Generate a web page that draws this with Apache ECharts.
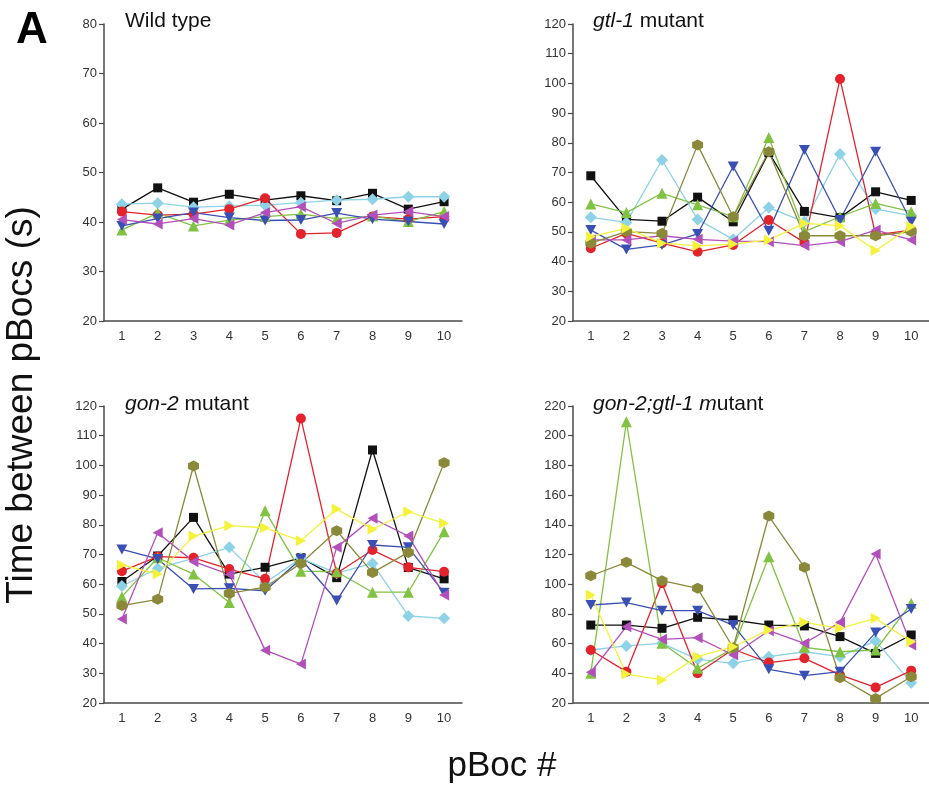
<!DOCTYPE html>
<html>
<head>
<meta charset="utf-8">
<title>Time between pBocs</title>
<script src="https://cdn.jsdelivr.net/npm/echarts@6/dist/echarts.min.js"></script>
<style>
  html, body { margin: 0; padding: 0; background: #fff; }
  #chart { width: 929px; height: 789px; }
</style>
</head>
<body>
<div id="chart"></div>
<script>
// x categories
var pboc = ['1', '2', '3', '4', '5', '6', '7', '8', '9', '10'];

// Wild type
var wt_black  = [42.6, 46.9, 44.0, 45.6, 44.4, 45.3, 44.3, 45.8, 42.6, 44.1];
var wt_red    = [42.1, 41.4, 41.6, 42.6, 44.8, 37.6, 37.8, 41.1, 40.6, 41.1];
var wt_blue   = [39.2, 40.7, 41.9, 40.9, 40.3, 40.4, 41.8, 40.6, 40.1, 39.6];
var wt_lblue  = [43.6, 43.8, 43.0, 43.2, 43.4, 43.9, 44.4, 44.6, 45.1, 45.1];
var wt_green  = [38.4, 41.8, 39.2, 40.4, 41.1, 41.6, 40.7, 41.2, 40.1, 42.1];
var wt_purple = [40.5, 39.6, 40.7, 39.4, 41.9, 43.1, 39.7, 41.4, 42.1, 41.1];

// gtl-1 mutant
var gtl_black  = [68.9, 54.2, 53.6, 61.7, 53.4, 76.7, 56.9, 54.8, 63.5, 60.6];
var gtl_red    = [44.5, 49.5, 46.2, 43.3, 45.6, 54.0, 46.4, 101.5, 49.0, 50.6];
var gtl_blue   = [50.6, 44.1, 45.6, 49.3, 72.0, 50.4, 77.6, 54.0, 77.0, 53.4];
var gtl_lblue  = [54.9, 53.2, 74.2, 54.2, 47.5, 58.2, 53.4, 76.2, 57.7, 55.5];
var gtl_green  = [59.4, 56.5, 63.0, 59.1, 55.1, 81.8, 50.1, 55.1, 59.6, 56.8];
var gtl_olive  = [46.2, 50.1, 49.5, 79.3, 55.1, 77.0, 48.7, 48.7, 48.7, 50.1];
var gtl_purple = [47.3, 47.3, 48.7, 47.5, 46.9, 46.7, 45.4, 46.7, 50.6, 47.3];
var gtl_yellow = [48.4, 51.2, 46.2, 45.3, 45.9, 47.3, 52.9, 52.1, 43.7, 51.8];

// gon-2 mutant
var gon_black  = [60.9, 69.5, 82.5, 63.4, 65.7, 68.9, 62.2, 105.2, 65.6, 61.8];
var gon_red    = [64.4, 69.3, 68.9, 65.1, 61.8, 115.8, 63.7, 71.5, 65.7, 64.2];
var gon_blue   = [71.7, 68.5, 58.4, 58.6, 57.8, 68.5, 54.5, 73.2, 72.4, 57.1];
var gon_lblue  = [59.4, 65.3, 68.7, 72.4, 60.5, 68.7, 63.7, 67.0, 49.3, 48.5];
var gon_green  = [55.8, 68.9, 63.4, 53.8, 84.7, 64.4, 64.2, 57.3, 57.3, 77.7];
var gon_olive  = [52.8, 54.9, 99.8, 56.9, 59.0, 67.0, 78.0, 63.9, 70.7, 100.9];
var gon_purple = [48.3, 77.3, 67.6, 63.3, 37.8, 33.1, 72.4, 82.2, 76.2, 56.4];
var gon_yellow = [66.5, 63.4, 76.2, 79.7, 79.0, 74.6, 85.3, 78.5, 84.4, 80.5];

// gon-2;gtl-1 mutant
var dbl_black  = [72.5, 72.5, 70.3, 77.7, 75.9, 72.5, 71.9, 64.7, 53.4, 65.8];
var dbl_red    = [55.7, 41.1, 100.6, 40.0, 56.2, 47.2, 50.1, 38.9, 30.5, 41.8];
var dbl_blue   = [86.0, 87.6, 82.2, 82.2, 72.5, 42.7, 38.4, 41.1, 67.4, 83.3];
var dbl_lblue  = [55.7, 58.4, 60.2, 49.4, 46.7, 51.2, 54.5, 51.2, 61.8, 33.7];
var dbl_green  = [40.0, 209.4, 60.2, 43.4, 56.8, 118.5, 57.5, 54.5, 55.7, 87.1];
var dbl_olive  = [105.7, 114.7, 102.4, 97.2, 57.2, 145.9, 111.4, 37.0, 23.1, 37.7];
var dbl_purple = [40.7, 71.4, 62.9, 64.0, 52.3, 68.7, 60.2, 74.3, 120.3, 59.1];
var dbl_yellow = [92.7, 39.5, 35.5, 51.2, 57.9, 69.2, 74.3, 70.3, 77.0, 61.3];

var FONT = '"Liberation Sans", Arial, Helvetica, sans-serif';

var styles = {
	black:  {color: '#111111', symbol: 'rect', size: 9},
	lblue:  {color: '#8dd2e6', symbol: 'diamond', size: 12},
	red:    {color: '#e3222b', symbol: 'circle', size: 10},
	green:  {color: '#80c242', symbol: 'triangle', size: 11},
	blue:   {color: '#3a4fb4', symbol: 'path://M0,0 L10,0 L5,9 Z', size: [11, 10]},
	purple: {color: '#b24fbb', symbol: 'path://M9,0 L9,10 L0,5 Z', size: [10, 11]},
	olive:  {color: '#8a893a', symbol: 'path://M50,0 L93.3,25 L93.3,75 L50,100 L6.7,75 L6.7,25 Z', size: 11},
	yellow: {color: '#f4f23a', symbol: 'path://M0,0 L0,10 L9,5 Z', size: [10, 11]}
};

var panels = [
	{left: 104, top: 24, max: 80, interval: 10, series: {black: wt_black, lblue: wt_lblue, red: wt_red, green: wt_green, blue: wt_blue, purple: wt_purple}},
	{left: 573, top: 24, max: 120, interval: 10, series: {black: gtl_black, lblue: gtl_lblue, red: gtl_red, green: gtl_green, blue: gtl_blue, purple: gtl_purple, olive: gtl_olive, yellow: gtl_yellow}},
	{left: 104, top: 406, max: 120, interval: 10, series: {black: gon_black, lblue: gon_lblue, red: gon_red, green: gon_green, blue: gon_blue, purple: gon_purple, olive: gon_olive, yellow: gon_yellow}},
	{left: 573, top: 406, max: 220, interval: 20, series: {black: dbl_black, lblue: dbl_lblue, red: dbl_red, green: dbl_green, blue: dbl_blue, purple: dbl_purple, olive: dbl_olive, yellow: dbl_yellow}}
];

var axisColor = '#4a4a4a';
var grid = [], xAxis = [], yAxis = [], series = [];

panels.forEach(function (p, i) {
	grid.push({left: p.left, top: p.top, width: 358, height: 297});
	xAxis.push({
		type: 'category', gridIndex: i, data: pboc, boundaryGap: true,
		axisLine: {lineStyle: {color: axisColor, width: 1.5}},
		axisTick: {alignWithLabel: true, length: 5, lineStyle: {color: axisColor, width: 1.2}},
		axisLabel: {color: '#333', fontSize: 13, fontFamily: FONT, margin: 9}
	});
	yAxis.push({
		type: 'value', gridIndex: i, min: 20, max: p.max, interval: p.interval,
		axisLine: {show: true, lineStyle: {color: axisColor, width: 1.5}},
		axisTick: {show: true, length: 5, lineStyle: {color: axisColor, width: 1.2}},
		axisLabel: {color: '#333', fontSize: 13, fontFamily: FONT, margin: 7},
		splitLine: {show: false}
	});
	Object.keys(p.series).forEach(function (key) {
		var s = styles[key];
		series.push({
			type: 'line', xAxisIndex: i, yAxisIndex: i,
			data: p.series[key],
			symbol: s.symbol, symbolSize: s.size,
			showAllSymbol: true,
			lineStyle: {color: s.color, width: 1.3},
			itemStyle: {color: s.color, opacity: 1},
			animation: false
		});
	});
});

var titleText = {fontSize: 21, fontWeight: 'normal', color: '#111', fontFamily: FONT,
	rich: {i: {fontStyle: 'italic', fontSize: 21, color: '#111', fontFamily: FONT}}};

var chart = echarts.init(document.getElementById('chart'));
chart.setOption({
	backgroundColor: '#ffffff',
	animation: false,
	title: [
		{text: 'A', left: 11, top: 4, textStyle: {fontSize: 44, fontWeight: 'bold', color: '#000', fontFamily: FONT}},
		{text: 'Wild type', left: 120, top: 6, textStyle: titleText},
		{text: '{i|gtl-1} mutant', left: 588, top: 6, textStyle: titleText},
		{text: '{i|gon-2} mutant', left: 120, top: 389, textStyle: titleText},
		{text: '{i|gon-2;gtl-1 m}utant', left: 588, top: 389, textStyle: titleText}
	],
	graphic: [
		{type: 'text', x: 22, y: 405, rotation: Math.PI / 2,
			style: {text: 'Time between pBocs (s)', fontSize: 37, fontFamily: FONT, fill: '#111', textAlign: 'center', textVerticalAlign: 'middle'}},
		{type: 'text', x: 502, y: 766,
			style: {text: 'pBoc #', fontSize: 35, fontFamily: FONT, fill: '#111', textAlign: 'center', textVerticalAlign: 'middle'}}
	],
	grid: grid,
	xAxis: xAxis,
	yAxis: yAxis,
	series: series
});
</script>
</body>
</html>
